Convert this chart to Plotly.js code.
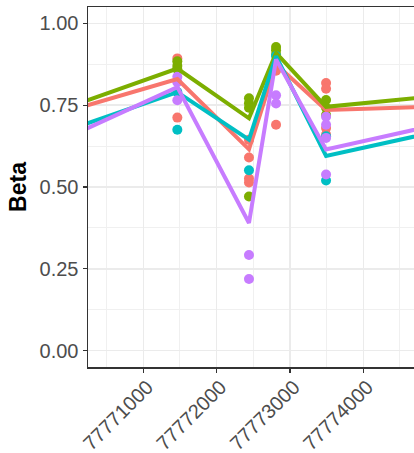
<!DOCTYPE html>
<html><head><meta charset="utf-8">
<script src="https://cdn.plot.ly/plotly-3.0.1.min.js"></script>
<style>html,body{margin:0;padding:0;background:#fff}#chart{width:414px;height:453px}</style>
</head><body><div id="chart"></div>
<script>
// Group names and colours (ggplot default hue palette)
const groups = ["A", "B", "C", "D"];
const groupColors = ["#F8766D", "#7CAE00", "#00BFC4", "#C77CFF"];

// Line (summary) positions and values per group
const linePos = [77770000, 77771464, 77772441, 77772810, 77773492, 77775000];
const lineA = [0.734, 0.830, 0.615, 0.875, 0.735, 0.746];
const lineB = [0.746, 0.862, 0.710, 0.910, 0.745, 0.778];
const lineC = [0.676, 0.790, 0.645, 0.900, 0.595, 0.669];
const lineD = [0.655, 0.805, 0.390, 0.890, 0.615, 0.690];

// Individual points per group
const ptPosA = [77771464, 77771464, 77772441, 77772441, 77772441, 77772441, 77772810, 77772810, 77772810, 77773492, 77773492, 77773492, 77773492];
const ptValA = [0.893, 0.712, 0.644, 0.590, 0.526, 0.514, 0.880, 0.855, 0.690, 0.818, 0.800, 0.680, 0.660];
const ptPosB = [77771464, 77771464, 77771464, 77772441, 77772441, 77772441, 77772441, 77772810, 77772810, 77772810, 77773492, 77773492, 77773492];
const ptValB = [0.884, 0.870, 0.860, 0.771, 0.756, 0.742, 0.471, 0.928, 0.918, 0.905, 0.766, 0.742, 0.720];
const ptPosC = [77771464, 77771464, 77772441, 77772810, 77773492, 77773492];
const ptValC = [0.790, 0.675, 0.551, 0.900, 0.655, 0.520];
const ptPosD = [77771464, 77771464, 77771464, 77772441, 77772441, 77772810, 77772810, 77773492, 77773492, 77773492, 77773492];
const ptValD = [0.837, 0.820, 0.765, 0.292, 0.219, 0.780, 0.755, 0.715, 0.690, 0.650, 0.538];

const yTickVals = [0, 0.25, 0.5, 0.75, 1.0];
const yTickText = ["0.00", "0.25", "0.50", "0.75", "1.00"];
const xTickVals = [77771000, 77772000, 77773000, 77774000];
const xTickText = ["77771000", "77772000", "77773000", "77774000"];
const xMinorVals = [77770500, 77771500, 77772500, 77773500, 77774500];
const yMinorVals = [0.125, 0.375, 0.625, 0.875];

const lines = [lineA, lineB, lineC, lineD];
const ptPos = [ptPosA, ptPosB, ptPosC, ptPosD];
const ptVal = [ptValA, ptValB, ptValC, ptValD];

const traces = [];
for (let i = 0; i < groups.length; i++) {
  traces.push({x: ptPos[i], y: ptVal[i], type: "scatter", mode: "markers", name: groups[i],
    marker: {color: groupColors[i], size: 10, line: {width: 0}}, showlegend: false, hoverinfo: "skip"});
}
for (let i = 0; i < groups.length; i++) {
  traces.push({x: linePos, y: lines[i], type: "scatter", mode: "lines", name: groups[i],
    line: {color: groupColors[i], width: 4}, showlegend: false, hoverinfo: "skip"});
}

const tickFont = {family: "Liberation Sans, Arial, sans-serif", size: 20, color: "#4D4D4D"};
const layout = {
  width: 414, height: 453,
  margin: {l: 88, r: 0, t: 7, b: 86},
  paper_bgcolor: "#ffffff", plot_bgcolor: "#ffffff",
  showlegend: false,
  xaxis: {
    range: [77770246, 77774691], tickmode: "array", tickvals: xTickVals, ticktext: xTickText,
    tickangle: -45, tickfont: tickFont, ticks: "outside", ticklen: 4, tickwidth: 1.1, tickcolor: "#333333",
    ticklabelstandoff: -5, ticklabelshift: 4,
    showgrid: true, gridcolor: "#EBEBEB", gridwidth: 1.5,
    minor: {tickmode: "array", tickvals: xMinorVals, showgrid: true, gridcolor: "#F0F0F0", gridwidth: 1, ticks: ""},
    showline: true, linecolor: "#333333", linewidth: 1.5, mirror: true, zeroline: false, automargin: false
  },
  yaxis: {
    range: [-0.05, 1.05], tickmode: "array", tickvals: yTickVals, ticktext: yTickText,
    tickfont: tickFont, ticks: "outside", ticklen: 4, tickwidth: 1.1, tickcolor: "#333333",
    showgrid: true, gridcolor: "#EBEBEB", gridwidth: 1.5,
    minor: {tickmode: "array", tickvals: yMinorVals, showgrid: true, gridcolor: "#F0F0F0", gridwidth: 1, ticks: ""},
    showline: true, linecolor: "#333333", linewidth: 1.5, zeroline: false, automargin: false,
    title: {text: "<b>Beta</b>", font: {family: "Liberation Sans, Arial, sans-serif", size: 23, color: "#000000"}, standoff: 6}
  }
};
Plotly.newPlot("chart", traces, layout, {displayModeBar: false, staticPlot: true});
</script></body></html>
